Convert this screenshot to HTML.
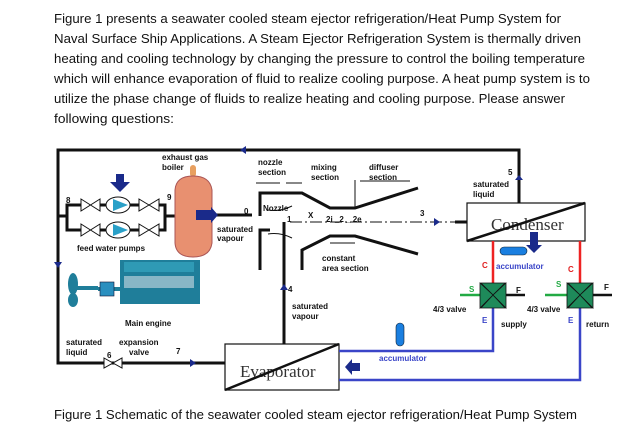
<!DOCTYPE html>
<html><head><meta charset="utf-8"><style>
html,body{margin:0;padding:0;background:#fff}
svg{display:block}
.p{font-family:"Liberation Sans",sans-serif;font-size:13px;fill:#111}
.l{font-family:"Liberation Sans",sans-serif;font-size:8px;font-weight:bold;fill:#111}
.s{font-family:"Liberation Serif",serif;font-size:17px;fill:#333}
</style></head><body>
<svg width="631" height="426" viewBox="0 0 631 426" xmlns="http://www.w3.org/2000/svg">
<text class="p" x="54" y="23" textLength="507" lengthAdjust="spacingAndGlyphs">Figure 1 presents a seawater cooled steam ejector refrigeration/Heat Pump System for</text>
<text class="p" x="54" y="43" textLength="527" lengthAdjust="spacingAndGlyphs">Naval Surface Ship Applications. A Steam Ejector Refrigeration System is thermally driven</text>
<text class="p" x="54" y="63" textLength="531" lengthAdjust="spacingAndGlyphs">heating and cooling technology by changing the pressure to control the boiling temperature</text>
<text class="p" x="54" y="83" textLength="536" lengthAdjust="spacingAndGlyphs">which will enhance evaporation of fluid to realize cooling purpose. A heat pump system is to</text>
<text class="p" x="54" y="103" textLength="511" lengthAdjust="spacingAndGlyphs">utilize the phase change of fluids to realize heating and cooling purpose. Please answer</text>
<text class="p" x="54" y="123" textLength="120" lengthAdjust="spacingAndGlyphs">following questions:</text>
<text class="p" x="54" y="419" textLength="523" lengthAdjust="spacingAndGlyphs">Figure 1 Schematic of the seawater cooled steam ejector refrigeration/Heat Pump System</text>

<g stroke="#111" stroke-width="3" fill="none">
<polyline points="519,203 519,150 58,150 58,363 225,363"/>
<line x1="284" y1="222" x2="284" y2="344"/>
<line x1="455" y1="222" x2="467" y2="222"/>
<line x1="213" y1="215" x2="252" y2="215"/>
<polyline points="67,230 67,205 81,205"/><polyline points="67,222 67,230 81,230"/>
<line x1="58" y1="216" x2="67" y2="216"/>
<polyline points="159,205 165,205 165,230 159,230"/><line x1="165" y1="216" x2="175" y2="216"/>
<line x1="100" y1="205" x2="107" y2="205"/><line x1="100" y1="230" x2="107" y2="230"/>
<line x1="130" y1="205" x2="139" y2="205"/><line x1="130" y1="230" x2="139" y2="230"/>
<polyline points="260,216 260,193 302,193 330,208 355,208 418,188"/>
<polyline points="270,230 260,230 260,270"/>
<polyline points="302,270 302,250 330,236 355,236 418,254"/>
</g>
<g stroke="#111" stroke-width="1" fill="none">
<line x1="290" y1="222" x2="455" y2="222" stroke-dasharray="12,3,2,3"/>
<path d="M268,210 Q280,212 292,206"/><path d="M268,234 Q280,232 292,238"/>
<line x1="256" y1="183" x2="280" y2="183"/><line x1="286" y1="183" x2="302" y2="183"/>
<line x1="355" y1="180" x2="355" y2="207"/><line x1="360" y1="181" x2="410" y2="181"/>
<line x1="330" y1="243" x2="355" y2="243"/>
</g>
<g class="l">
<text class="l" x="162" y="160">exhaust gas</text><text class="l" x="162" y="170">boiler</text>
<text class="l" x="258" y="165">nozzle</text><text class="l" x="258" y="175">section</text>
<text class="l" x="311" y="170">mixing</text><text class="l" x="311" y="180">section</text>
<text class="l" x="369" y="170">diffuser</text><text class="l" x="369" y="180">section</text>
<text class="l" x="263" y="211">Nozzle</text>
<text class="l" x="287" y="222">1</text><text class="l" x="308" y="218">X</text><text class="l" x="326" y="222">2i _2 _ 2e</text>
<text class="l" x="420" y="216">3</text><text class="l" x="244" y="214">0</text>
<text class="l" x="217" y="232">saturated</text><text class="l" x="217" y="241">vapour</text>
<text class="l" x="322" y="261">constant</text><text class="l" x="322" y="271">area section</text>
<text class="l" x="288" y="292">4</text>
<text class="l" x="292" y="309">saturated</text><text class="l" x="292" y="319">vapour</text>
<text class="l" x="508" y="175">5</text>
<text class="l" x="473" y="187">saturated</text><text class="l" x="473" y="197">liquid</text>
<text class="l" x="66" y="203">8</text><text class="l" x="167" y="200">9</text>
<text class="l" x="77" y="251">feed water pumps</text>
<text class="l" x="125" y="326">Main engine</text>
<text class="l" x="66" y="345">saturated</text><text class="l" x="66" y="355">liquid</text>
<text class="l" x="119" y="345">expansion</text><text class="l" x="129" y="355">valve</text>
<text class="l" x="107" y="358">6</text><text class="l" x="176" y="354">7</text>
<text class="l" x="433" y="312">4/3 valve</text><text class="l" x="527" y="312">4/3 valve</text>
<text class="l" x="501" y="327">supply</text><text class="l" x="586" y="327">return</text>
</g>
<text class="l" x="496" y="269" style="fill:#3a45c8">accumulator</text><text class="l" x="379" y="361" style="fill:#3a45c8">accumulator</text>
<text class="l" x="482" y="323" style="fill:#3a45c8">E</text><text class="l" x="568" y="323" style="fill:#3a45c8">E</text>
<text class="l" x="482" y="268" style="fill:#e02020">C</text><text class="l" x="568" y="272" style="fill:#e02020">C</text>
<text class="l" x="469" y="292" style="fill:#2a4">S</text><text class="l" x="556" y="287" style="fill:#2a4">S</text>
<text class="l" x="516" y="293">F</text><text class="l" x="604" y="290">F</text>

<rect x="467" y="203" width="118" height="38" fill="#fff" stroke="#111" stroke-width="1.2"/>
<text class="s" x="491" y="230">Condenser</text>
<line x1="467" y1="241" x2="585" y2="203" stroke="#111" stroke-width="2.5"/>
<rect x="225" y="344" width="114" height="46" fill="#fff" stroke="#111" stroke-width="1.2"/>
<text class="s" x="240" y="377">Evaporator</text>
<line x1="225" y1="390" x2="339" y2="344" stroke="#111" stroke-width="2.5"/>

<g fill="none" stroke-width="2.5">
<line x1="493" y1="241" x2="493" y2="283" stroke="#e22"/>
<line x1="580" y1="241" x2="580" y2="283" stroke="#e22"/>
<polyline points="339,351 493,351 493,308" stroke="#3a45c8"/>
<polyline points="339,380 580,380 580,308" stroke="#3a45c8"/>
<line x1="460" y1="295" x2="480" y2="295" stroke="#2a4"/>
<line x1="545" y1="295" x2="567" y2="295" stroke="#2a4"/>
<line x1="506" y1="295" x2="525" y2="295" stroke="#111"/>
<line x1="593" y1="295" x2="612" y2="295" stroke="#111"/>
</g>
<g fill="#1e8a5a" stroke="#111" stroke-width="0.8">
<polygon points="481,283 505,283 493,295"/><polygon points="481,308 505,308 493,295"/>
<polygon points="480,283 480,308 493,295"/><polygon points="506,283 506,308 493,295"/>
<polygon points="568,283 592,283 580,295"/><polygon points="568,308 592,308 580,295"/>
<polygon points="567,283 567,308 580,295"/><polygon points="593,283 593,308 580,295"/>
</g>
<rect x="500" y="247" width="27" height="8" rx="4" fill="#1a7fe0" stroke="#123" stroke-width="0.6"/>
<rect x="396" y="323" width="8" height="23" rx="4" fill="#1a7fe0" stroke="#123" stroke-width="0.6"/>
<polygon points="530,232 538,232 538,245 542,245 534,253 526,245 530,245" fill="#1a2a8a"/>
<polygon points="345,367 352,359 352,363 360,363 360,371 352,371 352,375" fill="#1a2a8a"/>
<polygon points="116,174 124,174 124,182 130,182 120,192 110,182 116,182" fill="#1a2a8a"/>

<g stroke="#111" stroke-width="1" fill="#fff">
<polygon points="81,199 100,211 100,199 81,211"/><polygon points="81,224 100,236 100,224 81,236"/>
<polygon points="139,199 159,211 159,199 139,211"/><polygon points="139,224 159,236 159,224 139,236"/>
<polygon points="104,358 122,368 122,358 104,368"/>
<ellipse cx="118" cy="205" rx="12" ry="8"/><ellipse cx="118" cy="230" rx="12" ry="8"/>
</g>
<polygon points="113,199 128,205 113,211" fill="#29a0c8"/><polygon points="113,224 128,230 113,236" fill="#29a0c8"/>
<rect x="190" y="165" width="6" height="12" rx="3" fill="#e8a060"/>
<path d="M175,190 Q176,176 193,176 Q210,176 212,190 L212,243 Q210,257 193,257 Q176,257 175,243 Z" fill="#e89070" stroke="#a55" stroke-width="1"/>
<rect x="196" y="210" width="15" height="10" fill="#1a2a8a"/>
<polygon points="211,207 218,215 211,223" fill="#1a2a8a"/>
<rect x="120" y="260" width="80" height="44" fill="#1f7e9a"/>
<rect x="124" y="262" width="70" height="10" fill="#2f9ab5"/>
<rect x="124" y="276" width="70" height="12" fill="#88b6c6"/>
<rect x="98" y="287" width="22" height="4" fill="#1f7e9a"/>
<rect x="100" y="282" width="14" height="14" fill="#2a8fbf" stroke="#113" stroke-width="0.6"/>
<ellipse cx="73" cy="284" rx="5" ry="11" fill="#1f7e9a"/><ellipse cx="73" cy="300" rx="5" ry="7" fill="#1f7e9a"/>
<rect x="72" y="286" width="26" height="4" fill="#1f7e9a"/>
<g fill="#1a2a8a">
<polygon points="240,150 246,146 246,154"/><polygon points="58,268 54,262 62,262"/>
<polygon points="196,363 190,359 190,367"/><polygon points="440,222 434,218 434,226"/>
<polygon points="284,284 280,290 288,290"/><polygon points="519,175 515,180 523,180"/>
</g>
</svg>
</body></html>
